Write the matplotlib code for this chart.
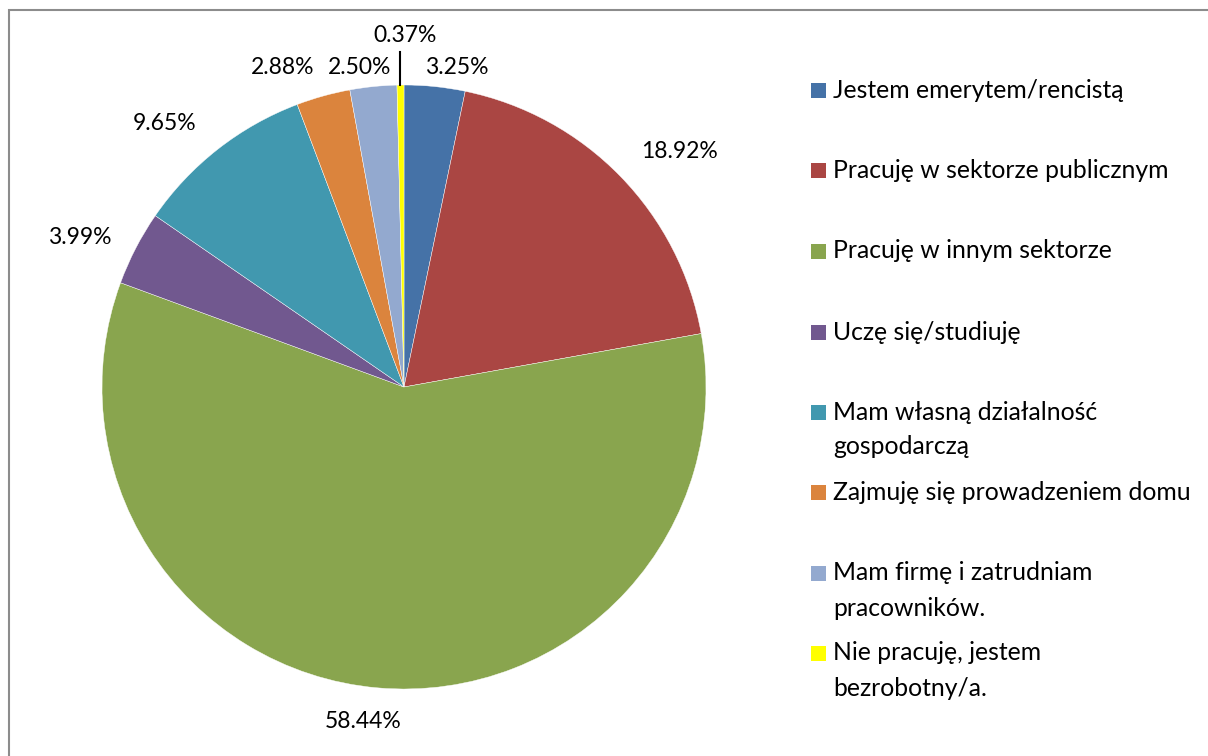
import matplotlib
matplotlib.use("Agg")
import matplotlib.pyplot as plt
from matplotlib.patches import Rectangle

categories = [
    "Jestem emerytem/rencistą",
    "Pracuję w sektorze publicznym",
    "Pracuję w innym sektorze",
    "Uczę się/studiuję",
    "Mam własną działalność\ngospodarczą",
    "Zajmuję się prowadzeniem domu",
    "Mam firmę i zatrudniam\npracowników.",
    "Nie pracuję, jestem\nbezrobotny/a.",
]
values = [3.25, 18.92, 58.44, 3.99, 9.65, 2.88, 2.50, 0.37]
colors = ["#4572A7", "#AA4643", "#89A54E", "#71588F",
          "#4198AF", "#DB843D", "#93A9CF", "#FFFF00"]

W, H = 1208, 756
plt.rcParams["font.family"] = ["Lato", "DejaVu Sans"]

fig = plt.figure(figsize=(W / 100, H / 100), dpi=100)
ax = fig.add_axes([0, 0, 1, 1])

# outer chart frame (runs off the right and bottom edges)
ax.add_patch(Rectangle((9, -20), W + 40, H - 10 + 20, fill=False,
                       edgecolor="#8c8c8c", linewidth=1.5))

cx, cy, r = 404, H - 387, 302
wedges, _ = ax.pie(values, colors=colors, startangle=90, counterclock=False,
                   center=(cx, cy), radius=r, frame=True,
                   wedgeprops=dict(edgecolor="white", linewidth=0.3))
ax.set_xlim(0, W)
ax.set_ylim(0, H)
ax.set_aspect("equal")
ax.axis("off")

# data label positions (pixel coords from top-left)
label_pos = [(457, 68), (679, 152), (363, 721), (80, 238), (165, 123),
             (283, 68), (360, 68), (405, 35)]
fs = 16.5
for v, (px, py) in zip(values, label_pos):
    ax.text(px, H - py, f"{v:.2f}%", ha="center", va="center",
            fontsize=fs, color="black")
# leader line for the smallest slice
ax.plot([400, 400], [H - 52, H - 85], color="black", linewidth=1.5)

# legend
legend_y = [90, 170, 251, 332, 412, 492, 573, 653]
line_gap = 35
lfs = 17.8
for lab, col, ly in zip(categories, colors, legend_y):
    ax.add_patch(Rectangle((811, H - ly - 7.5), 15, 15, facecolor=col,
                           edgecolor="none"))
    for k, line in enumerate(lab.split("\n")):
        ax.text(833, H - ly - k * line_gap, line, ha="left", va="center",
                fontsize=lfs, color="black")

fig.savefig("out.png", dpi=100)
